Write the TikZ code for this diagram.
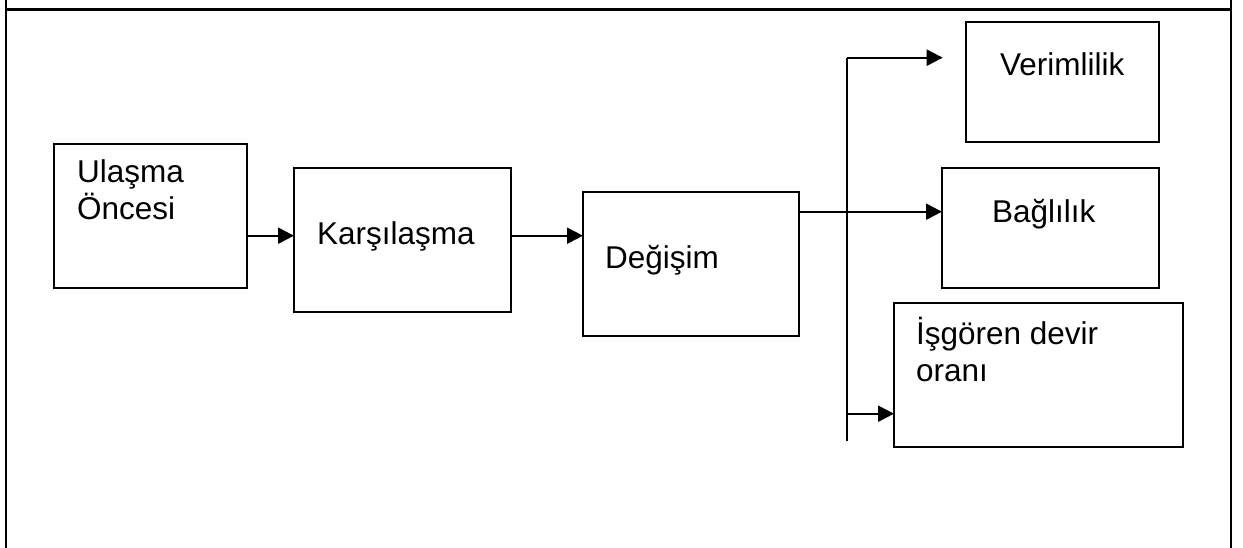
\documentclass[tikz,border=0pt]{standalone}
\usepackage{fontspec}
\setmainfont{Liberation Sans}
\usetikzlibrary{arrows.meta}
\begin{document}
\begin{tikzpicture}[x=1pt,y=-1pt,
  line width=2.1pt,
  stage/.style={draw,rectangle,anchor=north west,inner sep=0pt,outer sep=0pt},
  caption/.style={anchor=base west,inner sep=0pt,font=\fontsize{31.5}{37}\selectfont,align=left},
  arr/.style={-{Triangle[length=16pt,width=16pt]}}]
\useasboundingbox (0,0) rectangle (1243,548);
% open frame
\draw (6,548) -- (6,0);
\draw (1231,548) -- (1231,0);
\draw (6,9.5) -- (1231,9.5);
% stage boxes
\node[stage,minimum width=193pt,minimum height=144pt] (ul) at (54,144) {};
\node[stage,minimum width=217pt,minimum height=144pt] (ka) at (294,168) {};
\node[stage,minimum width=216pt,minimum height=144pt] (de) at (583,192) {};
\node[stage,minimum width=193pt,minimum height=120pt] (ve) at (966,22) {};
\node[stage,minimum width=217pt,minimum height=120pt] (ba) at (942,168) {};
\node[stage,minimum width=289pt,minimum height=144pt] (is) at (894,303) {};
% labels (base anchor sits on the last line)
\node[caption] (tul) at (76,220) {Ulaşma\\Öncesi};
\node[caption] (tka) at (316,245) {Karşılaşma};
\node[caption] (tde) at (604,269) {Değişim};
\node[caption] (tve) at (999,76) {Verimlilik};
\node[caption] (tba) at (991,223) {Bağlılık};
\node[caption] (tis) at (915,381) {İşgören devir\\oranı};
% connector levels
\coordinate (y1) at (0,235.7);
\coordinate (y2) at (0,211.7);
\coordinate (top) at (846.7,57.7);
\coordinate (bot) at (846.7,441);
\coordinate (ytip) at (942.7,57.7);
\coordinate (y3) at (0,413.7);
% connectors
\draw[arr] (ul.east |- y1) -- (ka.west |- y1);
\draw[arr] (ka.east |- y1) -- (de.west |- y1);
\draw[arr] (de.east |- y2) -- (ba.west |- y2);
\draw (top) -- (bot);
\draw[arr] (top) -- (ytip);
\draw[arr] (top |- y3) -- (is.west |- y3);
\end{tikzpicture}
\end{document}
